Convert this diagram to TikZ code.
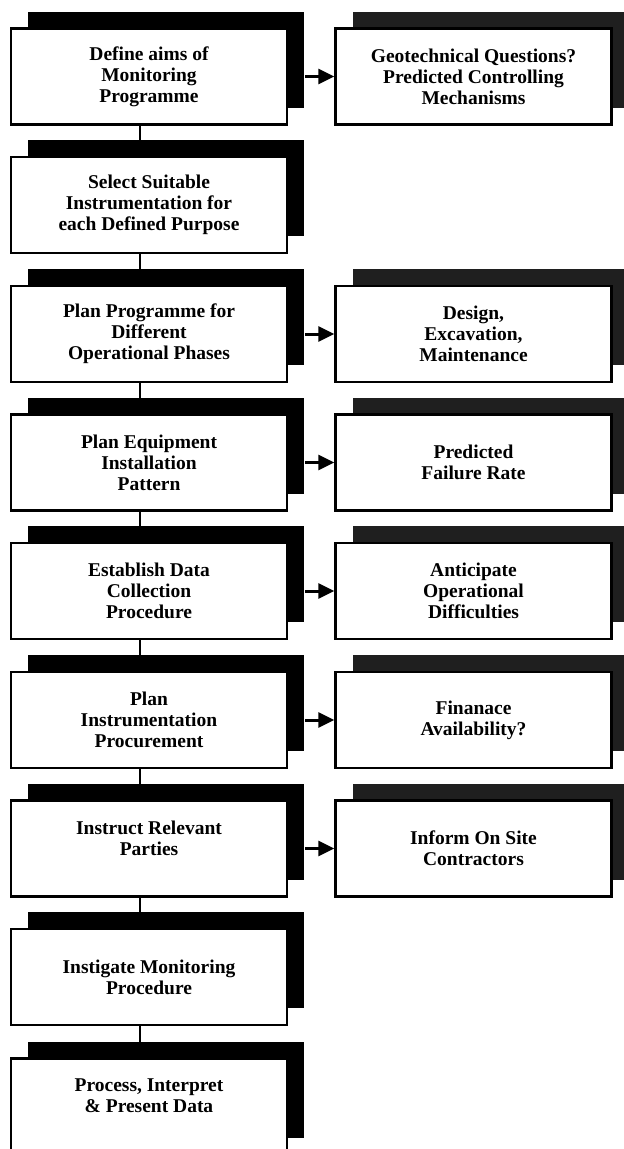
\documentclass[tikz,border=0pt]{standalone}
\usepackage{fontspec}
\setmainfont{Liberation Serif}
\usetikzlibrary{arrows.meta,shadows}

\tikzset{
  basebox/.style={draw, line width=2.4pt, fill=white, minimum width=276pt,
    minimum height=96pt, align=center, font=\bfseries\fontsize{19.5}{21}\selectfont},
  stepbox/.style={basebox, general shadow={fill=black, shadow xshift=17pt, shadow yshift=17pt}},
  notebox/.style={basebox, general shadow={fill=black!88, shadow xshift=17pt, shadow yshift=17pt}},
  link/.style={line width=2pt},
  feed/.style={line width=3pt, -{Triangle[length=16pt,width=15pt]}}
}

\begin{document}
\begin{tikzpicture}[x=1pt, y=-1pt]
  \clip (0,0) rectangle (624,1149);
  % main sequence
  \node[stepbox] (aims) at (149,76.5) {Define aims of\\Monitoring\\Programme};
  \node[stepbox] (select) at (149,205) {Select Suitable\\Instrumentation for\\each Defined Purpose};
  \node[stepbox] (phases) at (149,334) {Plan Programme for\\Different\\Operational Phases};
  \node[stepbox] (pattern) at (149,462.5) {Plan Equipment\\Installation\\Pattern};
  \node[stepbox] (collect) at (149,591) {Establish Data\\Collection\\Procedure};
  \node[stepbox] (procure) at (149,720) {Plan\\Instrumentation\\Procurement};
  \node[stepbox] (instruct) at (149,848.5) {Instruct Relevant\\Parties\\\mbox{}};
  \node[stepbox] (instigate) at (149,977) {Instigate Monitoring\\Procedure};
  \node[stepbox] (present) at (149,1106.5) {Process, Interpret\\\& Present Data\\\mbox{}};
  % side notes
  \node[notebox] (questions) at (473.5,76.5) {Geotechnical Questions?\\Predicted Controlling\\Mechanisms};
  \node[notebox] (design) at (473.5,334) {Design,\\Excavation,\\Maintenance};
  \node[notebox] (failure) at (473.5,462.5) {Predicted\\Failure Rate};
  \node[notebox] (difficult) at (473.5,591) {Anticipate\\Operational\\Difficulties};
  \node[notebox] (finance) at (473.5,720) {Finanace\\Availability?};
  \node[notebox] (contract) at (473.5,848.5) {Inform On Site\\Contractors};
  % links down the column
  \draw[link] ([xshift=-9pt]aims.south) -- ([xshift=-9pt]select.north);
  \draw[link] ([xshift=-9pt]select.south) -- ([xshift=-9pt]phases.north);
  \draw[link] ([xshift=-9pt]phases.south) -- ([xshift=-9pt]pattern.north);
  \draw[link] ([xshift=-9pt]pattern.south) -- ([xshift=-9pt]collect.north);
  \draw[link] ([xshift=-9pt]collect.south) -- ([xshift=-9pt]procure.north);
  \draw[link] ([xshift=-9pt]procure.south) -- ([xshift=-9pt]instruct.north);
  \draw[link] ([xshift=-9pt]instruct.south) -- ([xshift=-9pt]instigate.north);
  \draw[link] ([xshift=-9pt]instigate.south) -- ([xshift=-9pt]present.north);
  % arrows to the notes
  \draw[feed] ([xshift=17pt]aims.east) -- (questions.west);
  \draw[feed] ([xshift=17pt]phases.east) -- (design.west);
  \draw[feed] ([xshift=17pt]pattern.east) -- (failure.west);
  \draw[feed] ([xshift=17pt]collect.east) -- (difficult.west);
  \draw[feed] ([xshift=17pt]procure.east) -- (finance.west);
  \draw[feed] ([xshift=17pt]instruct.east) -- (contract.west);
\end{tikzpicture}
\end{document}
